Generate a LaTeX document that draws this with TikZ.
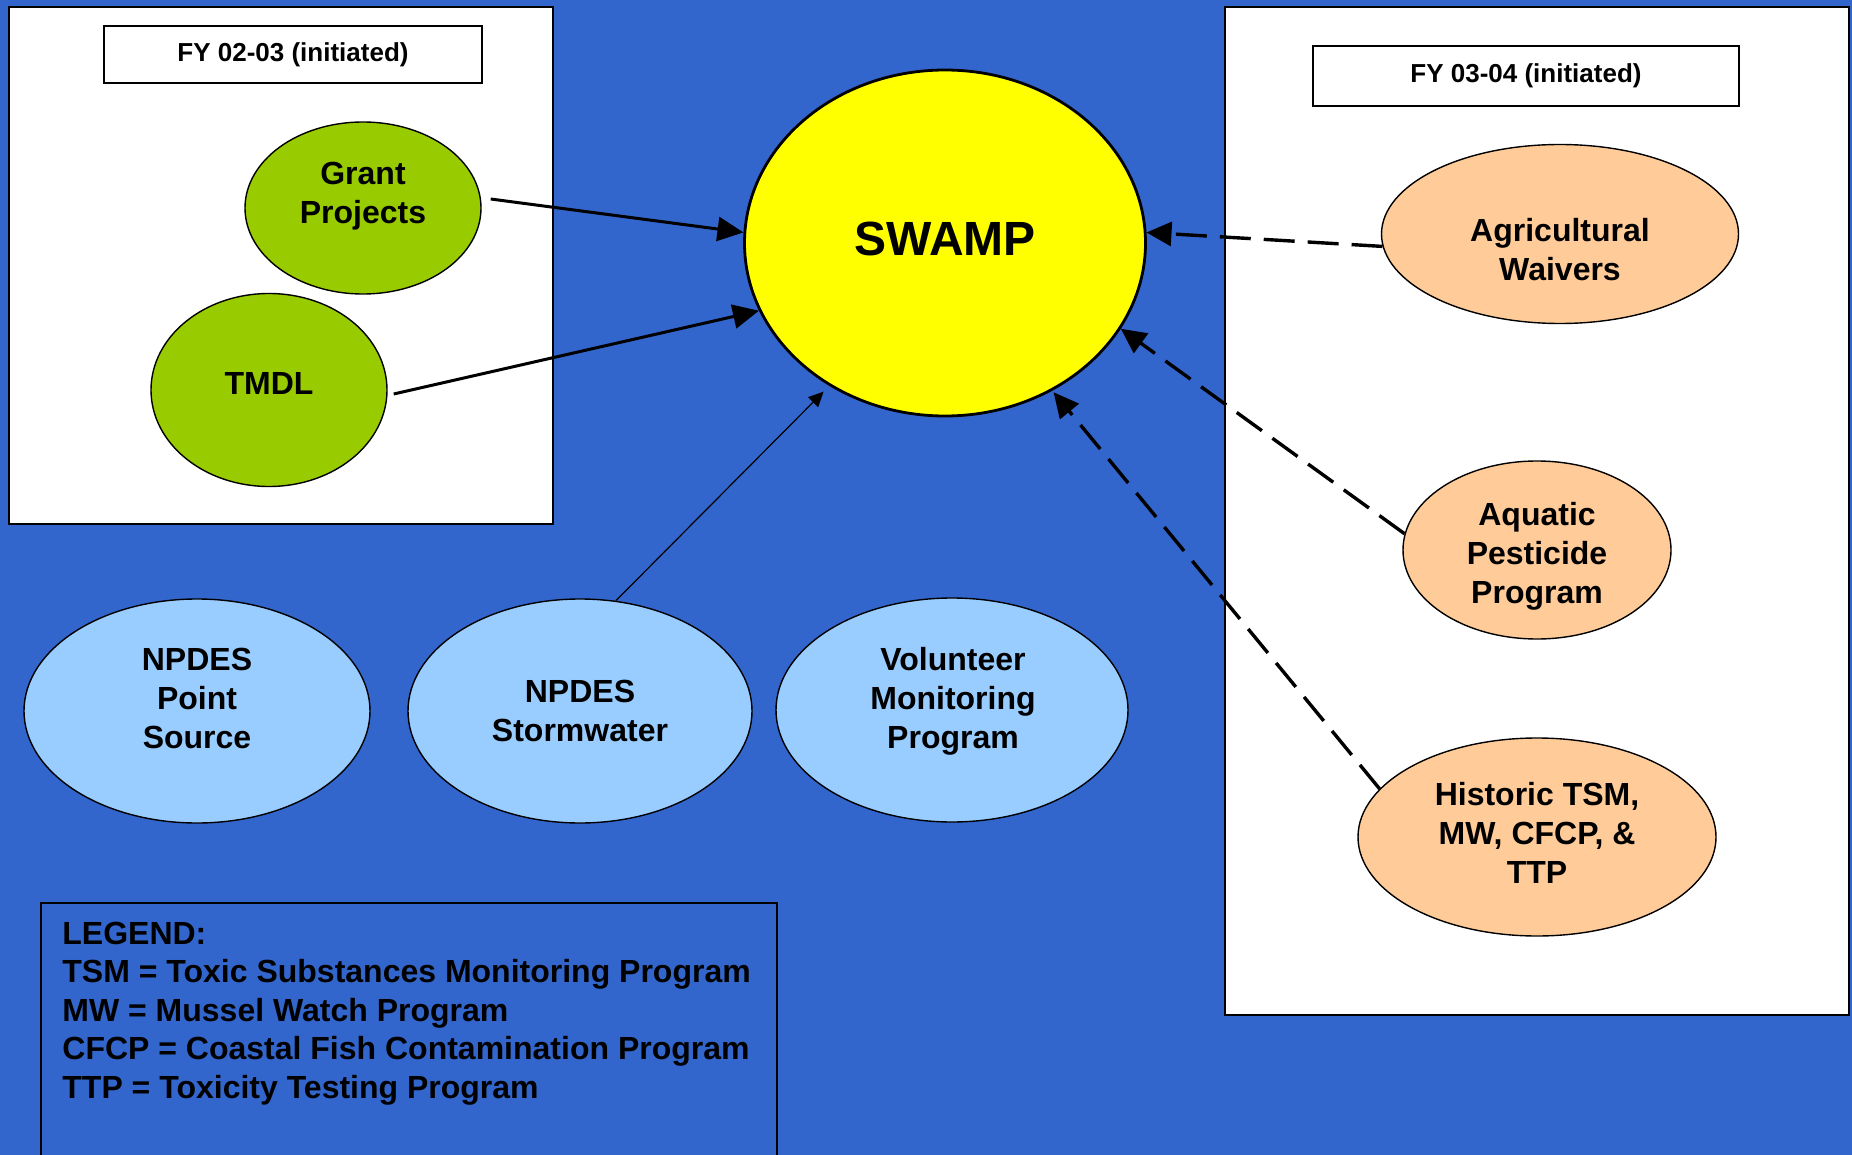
\documentclass[tikz,border=0pt]{standalone}
\usepackage{fontspec}
\setmainfont{Liberation Sans}
\usepackage{tikz}
\usetikzlibrary{shapes,arrows,positioning,calc,fit,arrows.meta}
\definecolor{swampblue}{HTML}{3366CC}
\definecolor{swampyellow}{HTML}{FFFF00}
\definecolor{grantgreen}{HTML}{99CC00}
\definecolor{npdesblue}{HTML}{99CCFF}
\definecolor{waiverpeach}{HTML}{FFCC99}
\tikzset{
  panel/.style={draw=black, line width=1pt, fill=white, inner sep=0pt},
  fybox/.style={draw=black, line width=0.75pt, fill=white, inner sep=0pt, font=\fontsize{13}{15}\selectfont\bfseries},
  prog/.style={ellipse, draw=black, line width=0.7pt, inner sep=0pt},
  progtxt/.style={inner sep=0pt, align=center, font=\fontsize{16}{19.5}\selectfont\bfseries},
  feed/.style={line width=1.5pt, -{Triangle[length=13pt,width=12pt]}},
  thinfeed/.style={line width=0.6pt, -{Triangle[length=7.5pt,width=7pt]}, shorten >=4pt},
  planned/.style={line width=1.7pt, dash pattern=on 15.5pt off 6.5pt, -{Triangle[length=12.5pt,width=12pt]}}
}
\begin{document}
\begin{tikzpicture}[x=0.5pt, y=-0.5pt]
    \useasboundingbox (0,0) rectangle (1852,1155);
    \clip (0,0) rectangle (1852,1155);
    \fill[swampblue] (0,0) rectangle (1852,1155);
    \node[panel, fit={(9,7) (553,524)}] (early) {};
    \node[panel, fit={(1225,7) (1849,1015)}] (later) {};
    \node[fybox, minimum width=189pt, minimum height=28.5pt] (fy0203) at (293,54.5) {FY 02-03 (initiated)};
    \node[fybox, minimum width=213pt, minimum height=30pt] (fy0304) at (1526,76) {FY 03-04 (initiated)};

    \node[prog, fill=grantgreen, minimum width=118pt, minimum height=86pt] (grant) at (363,208) {};
    \node[progtxt] (grant-t) at (363,196) {Grant\\Projects};
    \node[prog, fill=grantgreen, minimum width=118pt, minimum height=96.5pt] (tmdl) at (269,390) {};
    \node[progtxt] (tmdl-t) at (269,383) {TMDL};

    \node[ellipse, draw=black, line width=1.4pt, fill=swampyellow, minimum width=200.5pt, minimum height=173pt,
          text depth=4pt, font=\fontsize{24}{28}\selectfont\bfseries] (swamp) at (945,243) {SWAMP};

    \node[prog, fill=waiverpeach, minimum width=178.5pt, minimum height=89.5pt] (agri) at (1560,234) {};
    \node[progtxt] (agri-t) at (1560,250) {Agricultural\\Waivers};
    \node[prog, fill=waiverpeach, minimum width=134pt, minimum height=89pt] (aquatic) at (1537,550) {};
    \node[progtxt] (aquatic-t) at (1537,556) {Aquatic\\Pesticide\\Program};
    \node[prog, fill=waiverpeach, minimum width=179pt, minimum height=99pt] (historic) at (1537,837) {};
    \node[progtxt] (historic-t) at (1537,833) {Historic TSM,\\MW, CFCP, \&\\TTP};

    \node[prog, fill=npdesblue, minimum width=173pt, minimum height=112pt] (point) at (197,711) {};
    \node[progtxt] (point-t) at (197,698) {NPDES\\Point\\Source};
    \node[prog, fill=npdesblue, minimum width=172pt, minimum height=112pt] (storm) at (580,711) {};
    \node[progtxt] (storm-t) at (580,711) {NPDES\\Stormwater};
    \node[prog, fill=npdesblue, minimum width=176pt, minimum height=112pt] (volunteer) at (952,710) {};
    \node[progtxt] (volunteer-t) at (953,701) {Volunteer\\Monitoring\\Program};

    \node[draw=black, line width=1pt, inner sep=0pt, fit={(41,903) (777,1175)}] (legend) {};
    \node[inner sep=0pt, anchor=north west, align=left, font=\fontsize{16}{19.25}\selectfont\bfseries] (legend-t) at (62,921.5)
        {LEGEND:\\TSM = Toxic Substances Monitoring Program\\MW = Mussel Watch Program\\CFCP = Coastal Fish Contamination Program\\TTP = Toxicity Testing Program};

    \draw[feed] ([shift={(9,-9)}]grant.east) -- (swamp.177);
    \draw[feed] ([shift={(6,4)}]tmdl.east) -- (swamp.200);
    \draw[thinfeed] (storm.72) -- (swamp.231);
    \draw[planned] (agri.184) -- (swamp.3);
    \draw[planned] (aquatic.173) -- (swamp.334);
    \draw[planned, shorten >=1pt] (historic.163) -- (swamp.306);
\end{tikzpicture}
\end{document}
